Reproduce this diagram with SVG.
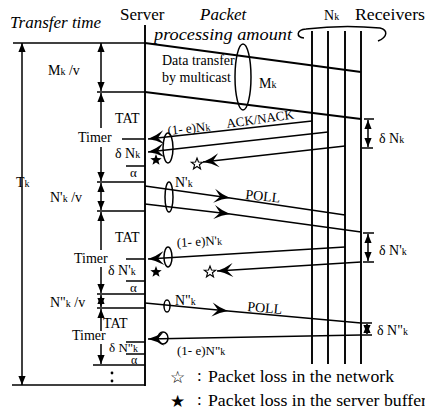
<svg xmlns="http://www.w3.org/2000/svg" width="425" height="411" viewBox="0 0 425 411">
<style>
.t{font-family:"Liberation Serif","Times New Roman",serif;fill:#000}
.L{font-size:17px}
.I{font-style:italic}
.s{font-size:14px}
.m{font-size:13px}
.k{font-size:10px}
.ln{stroke:#000;stroke-width:1.9;fill:none}
.th{stroke:#000;stroke-width:1.5;fill:none}
.dim{stroke:#000;stroke-width:1.5;fill:none;marker-start:url(#ah);marker-end:url(#ah)}
.up{stroke:#000;stroke-width:1.5;fill:none;marker-start:url(#ah)}
.dn{stroke:#000;stroke-width:1.5;fill:none;marker-end:url(#ah)}
.rsp{stroke:#000;stroke-width:1.6;fill:none;marker-end:url(#st)}
.pol{stroke:#000;stroke-width:1.6;fill:none;marker-mid:url(#st)}
.bs{fill:#000}
.ws{fill:#fff;stroke:#000;stroke-width:1.1}
</style>
<defs>
<marker id="ah" viewBox="0 0 10 8" refX="10" refY="4" markerWidth="9" markerHeight="8" markerUnits="userSpaceOnUse" orient="auto-start-reverse"><path d="M0,0 L10,4 L0,8 z"/></marker>
<marker id="st" viewBox="-17 -8 18 16" refX="0" refY="0" markerWidth="18" markerHeight="16" markerUnits="userSpaceOnUse" orient="auto"><path d="M0,0 Q-8,-2 -16,-7 L-10,0 L-16,7 Q-8,2 0,0 z"/></marker>
<path id="star" d="M0,-6 L1.47,-2.02 L5.71,-1.85 L2.38,0.77 L3.53,4.85 L0,2.5 L-3.53,4.85 L-2.38,0.77 L-5.71,-1.85 L-1.47,-2.02 Z"/>
</defs>
<rect width="425" height="411" fill="#fff"/>

<g id="transfer-time">
<text class="t L I" x="10" y="28">Transfer time</text>
<line class="th" x1="13" y1="43" x2="145" y2="43"/>
<line class="th" x1="12" y1="385" x2="145" y2="385"/>
<line class="dim" x1="22" y1="43" x2="22" y2="385"/>
<text class="t s" x="16" y="187">T<tspan class="k">k</tspan></text>
</g>

<g id="server">
<text class="t L" x="120" y="20">Server</text>
<line class="ln" x1="145" y1="25" x2="145" y2="386"/>
</g>

<g id="packet-amount">
<text class="t L I" x="200" y="20">Packet</text>
<text class="t L I" x="154" y="40" textLength="138" lengthAdjust="spacingAndGlyphs">processing amount</text>
</g>

<g id="receivers">
<text class="t L" x="355" y="20" textLength="70" lengthAdjust="spacingAndGlyphs">Receivers</text>
<text class="t s" x="324" y="20">N<tspan class="k">k</tspan></text>
<path class="th" d="M304,38 C296,37 296,30 306,29 C330,26 360,26 380,28 C388,30 388,37 378,41"/>
<line class="ln" x1="312" y1="31" x2="312" y2="364"/>
<line class="ln" x1="328" y1="31" x2="328" y2="364"/>
<line class="ln" x1="345" y1="31" x2="345" y2="364"/>
<line class="ln" x1="361" y1="31" x2="361" y2="364"/>
</g>

<g id="cycle1-left">
<line class="dim" x1="101" y1="43" x2="101" y2="91"/>
<text class="t s" x="48" y="75">M<tspan class="k">k</tspan> /v</text>
<line class="th" x1="97" y1="92" x2="145" y2="92"/>
<line class="up" x1="101" y1="93" x2="101" y2="128"/>
<text class="t s" x="115" y="123">TAT</text>
<text class="t s" x="78" y="142">Timer</text>
<line class="dn" x1="101" y1="147" x2="101" y2="181"/>
<line class="th" x1="122" y1="139" x2="145" y2="139"/>
<text class="t s" x="115" y="158">δ N<tspan class="k">k</tspan></text>
<line class="th" x1="126" y1="166" x2="145" y2="166"/>
<text class="t m" x="130" y="177">α</text>
<line class="th" x1="97" y1="182" x2="145" y2="182"/>
</g>

<g id="cycle2-left">
<line class="dim" x1="101" y1="183" x2="101" y2="210"/>
<text class="t s" x="50" y="202">N'<tspan class="k">k</tspan> /v</text>
<line class="th" x1="97" y1="211" x2="145" y2="211"/>
<line class="up" x1="101" y1="212" x2="101" y2="250"/>
<text class="t s" x="115" y="242">TAT</text>
<text class="t s" x="74" y="263">Timer</text>
<line class="dn" x1="101" y1="267" x2="101" y2="293"/>
<line class="th" x1="126" y1="259" x2="145" y2="259"/>
<text class="t s" x="108" y="275">δ N'<tspan class="k">k</tspan></text>
<line class="th" x1="126" y1="281" x2="145" y2="281"/>
<text class="t m" x="130" y="292">α</text>
<line class="th" x1="97" y1="294" x2="145" y2="294"/>
</g>

<g id="cycle3-left">
<line class="dim" x1="101" y1="295" x2="101" y2="307"/>
<text class="t s" x="50" y="307">N"<tspan class="k">k</tspan> /v</text>
<line class="th" x1="97" y1="308" x2="145" y2="308"/>
<line class="up" x1="101" y1="309" x2="101" y2="331"/>
<text class="t s" x="103" y="328">TAT</text>
<text class="t s" x="72" y="340">Timer</text>
<line class="dn" x1="101" y1="344" x2="101" y2="364"/>
<line class="th" x1="126" y1="342" x2="145" y2="342"/>
<text class="t m" x="109" y="352">δ N"<tspan class="k">k</tspan></text>
<line class="th" x1="126" y1="354" x2="145" y2="354"/>
<text class="t" x="131" y="364" style="font-size:12px">α</text>
<line class="th" x1="93" y1="365" x2="145" y2="365"/>
<circle cx="112" cy="373" r="1.4"/>
<circle cx="112" cy="381" r="1.4"/>
</g>

<g id="connectors">
<line class="ln" x1="145" y1="43" x2="361" y2="72"/>
<line class="ln" x1="145" y1="92" x2="361" y2="119"/>
<path class="rsp" d="M312,121 L148,139"/>
<path class="rsp" d="M328,132 L148,152"/>
<path class="rsp" d="M345,146 L203,162"/>
<path class="pol" d="M145,186 L230,198 L345,215"/>
<path class="pol" d="M145,204 L230,214 L361,232"/>
<path class="rsp" d="M345,247 L148,259"/>
<path class="rsp" d="M361,262 L217,271"/>
<path class="pol" d="M145,303 L228,311 L361,323"/>
<path class="rsp" d="M361,335 L148,339"/>
</g>

<g id="data-transfer">
<text class="t s" x="162" y="65">Data transfer</text>
<text class="t s" x="162" y="82">by multicast</text>
<ellipse class="th" cx="243" cy="77" rx="8" ry="33"/>
<text class="t s" x="259" y="88">M<tspan class="k">k</tspan></text>
</g>

<g id="cycle1-right">
<ellipse class="th" cx="168" cy="148" rx="5" ry="15"/>
<text class="t m" x="168" y="135" transform="rotate(-6 168 135)">(1- e)N<tspan class="k">k</tspan></text>
<text class="t m" x="227" y="128" transform="rotate(-8 227 128)">ACK/NACK</text>
<use href="#star" x="156" y="160" class="bs"/>
<use href="#star" x="197" y="164" class="ws"/>
<line class="th" x1="364" y1="119" x2="374" y2="119"/>
<line class="th" x1="362" y1="148" x2="373" y2="148"/>
<line class="dim" x1="368" y1="120" x2="368" y2="147"/>
<text class="t s" x="379" y="143">δ N<tspan class="k">k</tspan></text>
</g>

<g id="cycle2-right">
<ellipse class="th" cx="169" cy="197" rx="4" ry="15"/>
<text class="t s" x="175" y="187">N'<tspan class="k">k</tspan></text>
<text class="t s" x="245" y="199" transform="rotate(6 245 199)">POLL</text>
<ellipse class="th" cx="168" cy="257" rx="4" ry="10"/>
<text class="t m" x="177" y="247" transform="rotate(-3 177 247)">(1- e)N'<tspan class="k">k</tspan></text>
<use href="#star" x="156" y="272" class="bs"/>
<use href="#star" x="210" y="272" class="ws"/>
<line class="th" x1="363" y1="233" x2="374" y2="233"/>
<line class="th" x1="363" y1="262" x2="374" y2="262"/>
<line class="dim" x1="368" y1="234" x2="368" y2="261"/>
<text class="t s" x="379" y="255">δ N'<tspan class="k">k</tspan></text>
</g>

<g id="cycle3-right">
<ellipse class="th" cx="167" cy="306" rx="3" ry="6"/>
<text class="t s" x="175" y="305">N"<tspan class="k">k</tspan></text>
<text class="t s" x="247" y="311" transform="rotate(5 247 311)">POLL</text>
<ellipse class="th" cx="163" cy="338" rx="5" ry="6"/>
<text class="t m" x="177" y="355">(1- e)N"<tspan class="k">k</tspan></text>
<line class="th" x1="362" y1="323" x2="372" y2="323"/>
<line class="th" x1="362" y1="335" x2="372" y2="335"/>
<line class="dim" x1="367" y1="324" x2="367" y2="334"/>
<text class="t s" x="377" y="335">δ N"<tspan class="k">k</tspan></text>
</g>

<g id="legend">
<text x="170" y="383" style="font-family:'DejaVu Sans',sans-serif;font-size:17px">☆</text>
<text class="t L" x="197" y="381">:</text>
<text class="t L" x="208" y="382" textLength="186" lengthAdjust="spacingAndGlyphs">Packet loss in the network</text>
<text x="170" y="407" style="font-family:'DejaVu Sans',sans-serif;font-size:17px">★</text>
<text class="t L" x="197" y="405">:</text>
<text class="t L" x="208" y="406" textLength="219" lengthAdjust="spacingAndGlyphs">Packet loss in the server buffer</text>
</g>
</svg>
